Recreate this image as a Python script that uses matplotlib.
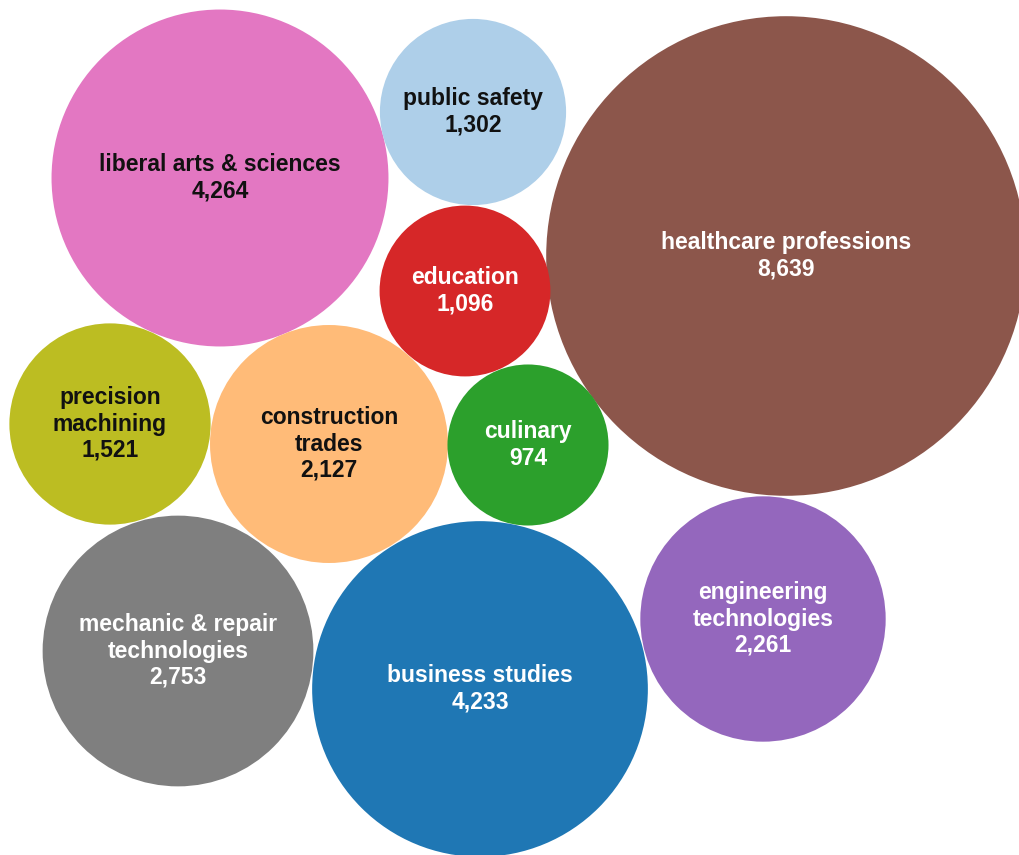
"""
Packed bubble chart: enrolment by programme area.
"""
import matplotlib.pyplot as plt
import numpy as np
from matplotlib.patches import Circle

LABELS = [
    "liberal arts & sciences", "public safety", "healthcare professions",
    "education", "precision\nmachining", "construction\ntrades", "culinary",
    "mechanic & repair\ntechnologies", "business studies", "engineering\ntechnologies",
]
VALUES = [4264, 1302, 8639, 1096, 1521, 2127, 974, 2753, 4233, 2261]

# bubble centres (layout, in pixel units of the canvas)
CX = [220, 473, 786, 465, 110, 329, 528, 178, 480, 763]
CY = [178, 112, 256, 291, 424, 444, 445, 651, 689, 619]

COLORS = ["#e377c2", "#aecfe9", "#8c564b", "#d62728", "#bcbd22",
          "#ffbb78", "#2ca02c", "#7f7f7f", "#1f77b4", "#9467bd"]
TEXT_COLORS = ["#111111", "#111111", "white", "white", "#111111",
               "#111111", "white", "white", "white", "white"]

SCALE = 2.58  # radius per sqrt(value)

fig = plt.figure(figsize=(10.19, 8.55), dpi=100)
ax = fig.add_axes([0, 0, 1, 1])
ax.set_xlim(0, 1019)
ax.set_ylim(855, 0)
ax.set_aspect("equal")
ax.axis("off")

for lab, v, x, y, c, tc in zip(LABELS, VALUES, CX, CY, COLORS, TEXT_COLORS):
    r = SCALE * np.sqrt(v)
    ax.add_patch(Circle((x, y), r, facecolor=c, edgecolor="none"))
    ax.text(x, y, f"{lab}\n{v:,}", ha="center", va="center", color=tc,
            fontsize=16.5, fontweight="bold", family="Liberation Sans",
            linespacing=1.18)

fig.savefig("out.png", facecolor="white")
